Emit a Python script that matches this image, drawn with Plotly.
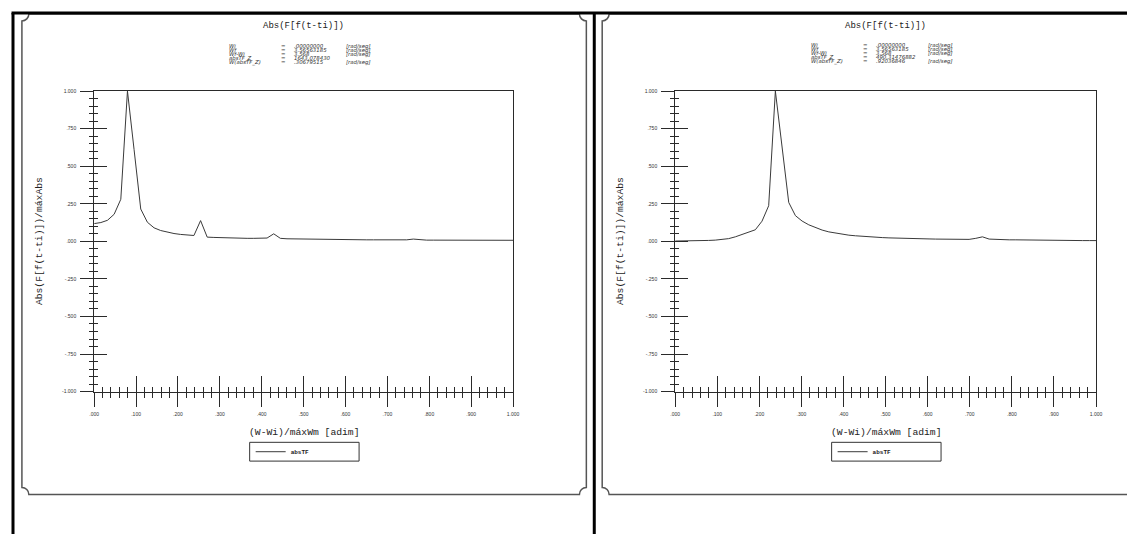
import plotly.graph_objects as go

PAGE_W, PAGE_H = 1135, 534
OFF = 8  # browser body margin
W, H = PAGE_W - OFF, PAGE_H - OFF

# ---------------- data ----------------
freq = [0.0, 0.0159, 0.0317, 0.0476, 0.0635, 0.0794, 0.0952, 0.1111, 0.127, 0.1429,
        0.1587, 0.1746, 0.1905, 0.2063, 0.2222, 0.2381, 0.254, 0.2698, 0.2857, 0.3016,
        0.3175, 0.3333, 0.3492, 0.3651, 0.381, 0.3968, 0.4127, 0.4286, 0.4444, 0.4603,
        0.4762, 0.4921, 0.5079, 0.5238, 0.5397, 0.5556, 0.5714, 0.5873, 0.6032, 0.619,
        0.6349, 0.6508, 0.6667, 0.6825, 0.6984, 0.7143, 0.7302, 0.746, 0.7619, 0.7778,
        0.7937, 0.8095, 0.8254, 0.8413, 0.8571, 0.873, 0.8889, 0.9048, 0.9206, 0.9365,
        0.9524, 0.9683, 0.9841, 1.0]

abs_left = [0.118, 0.125, 0.14, 0.18, 0.28, 1.0, 0.61, 0.215, 0.127, 0.09,
            0.072, 0.06, 0.052, 0.046, 0.042, 0.039, 0.138, 0.028, 0.026, 0.024,
            0.023, 0.022, 0.021, 0.02, 0.02, 0.019, 0.022, 0.05, 0.02, 0.017,
            0.016, 0.015, 0.015, 0.014, 0.013, 0.013, 0.012, 0.014, 0.012, 0.011,
            0.011, 0.01, 0.01, 0.01, 0.009, 0.009, 0.009, 0.01, 0.015, 0.009,
            0.008, 0.008, 0.008, 0.008, 0.008, 0.008, 0.007, 0.007, 0.007, 0.007,
            0.007, 0.007, 0.007, 0.007]

abs_right = [0.002, 0.002, 0.003, 0.004, 0.005, 0.006, 0.008, 0.012, 0.018, 0.03,
             0.046, 0.06, 0.077, 0.134, 0.237, 1.0, 0.62, 0.259, 0.171, 0.135,
             0.11, 0.09, 0.075, 0.063, 0.054, 0.047, 0.041, 0.037, 0.033, 0.03,
             0.027, 0.025, 0.023, 0.021, 0.02, 0.019, 0.018, 0.017, 0.016, 0.015,
             0.014, 0.014, 0.013, 0.013, 0.013, 0.02, 0.03, 0.015, 0.012, 0.011,
             0.01, 0.01, 0.009, 0.009, 0.008, 0.008, 0.007, 0.007, 0.006, 0.006,
             0.006, 0.005, 0.005, 0.005]

series_name = "absTF"
plot_title = "Abs(F[f(t-ti)])"
x_title = "(W-Wi)/máxWm [adim]"
y_title = "Abs(F[f(t-ti)])/máxAbs"

x_tickvals = [0.0, 0.1, 0.2, 0.3, 0.4, 0.5, 0.6, 0.7, 0.8, 0.9, 1.0]
x_ticktext = [".000", ".100", ".200", ".300", ".400", ".500", ".600", ".700", ".800", ".900", "1.000"]
y_tickvals = [-1.0, -0.75, -0.5, -0.25, 0.0, 0.25, 0.5, 0.75, 1.0]
y_ticktext = ["-1.000", "-.750", "-.500", "-.250", ".000", ".250", ".500", ".750", "1.000"]

info_labels = ["Wi", "Wf", "Wf-Wi", "absTF_Z", "W(absTF_Z)"]
info_units = ["[rad/seg]", "[rad/seg]", "[rad/seg]", "", "[rad/seg]"]
info_left = [".00000000", "3.56563185", "3.568", "1643.078430", ".30679515"]
info_right = [".00000000", "3.56563185", "3.568", "490.31476882", ".92036846"]


# ---------------- geometry (page pixels -> paper) ----------------
def px(x):
    return (x - OFF) / W


def py(y):
    return 1 - (y - OFF) / H


panels = [
    dict(x0=90.0, x1=513.0, data=abs_left, info=info_left, frame=(17, 587), info_y=51.5),
    dict(x0=676.7, x1=1101.7, data=abs_right, info=info_right, frame=(603, 1160), info_y=50.5),
]
Y_TOP, Y_BOT = 89.0, 393.0
AX = "#2a2a2a"
TICKFONT = dict(family="Liberation Sans", size=5, color="#333333")
MONO = "Liberation Mono"

fig = go.Figure()
layout = dict(
    width=W, height=H,
    margin=dict(l=0, r=0, t=0, b=0),
    paper_bgcolor="white", plot_bgcolor="white",
    showlegend=True,
)

shapes = []
annotations = []


def column(lines):
    # tight 4px line pitch (base font 3.1px) with larger glyphs
    return "<br>".join(f'<span style="font-size:5.4px">{t if t else "&nbsp;"}</span>' for t in lines)


for i, p in enumerate(panels):
    n = i + 1
    xa = "x" if n == 1 else f"x{n}"
    ya = "y" if n == 1 else f"y{n}"
    xkey = "xaxis" if n == 1 else f"xaxis{n}"
    ykey = "yaxis" if n == 1 else f"yaxis{n}"
    ox = n + 3  # overlay axes 4, 5 (inward half of crossing ticks)
    oxa, oya = f"x{ox}", f"y{ox}"
    legend_key = "legend" if n == 1 else f"legend{n}"

    fig.add_trace(go.Scatter(
        x=freq, y=p["data"], mode="lines", name=series_name,
        line=dict(color="#3a3a3a", width=1),
        xaxis=xa, yaxis=ya, legend=legend_key,
    ))

    xdom = [px(p["x0"]), px(p["x1"])]
    ydom = [py(Y_BOT), py(Y_TOP)]

    layout[xkey] = dict(
        domain=xdom, range=[0, 1], anchor=ya, showgrid=False, zeroline=False,
        showline=True, linecolor=AX, linewidth=1, mirror=True,
        tickmode="array", tickvals=x_tickvals, ticktext=x_ticktext,
        ticks="outside", ticklen=14, tickwidth=1, tickcolor=AX,
        minor=dict(ticks="outside", ticklen=5, tickwidth=1, tickcolor=AX, dtick=0.02, tick0=0, showgrid=False),
        tickfont=TICKFONT, ticklabelstandoff=3,
    )
    layout[ykey] = dict(
        domain=ydom, range=[-1, 1], anchor=xa, showgrid=False, zeroline=False,
        showline=True, linecolor=AX, linewidth=1, mirror=True,
        tickmode="array", tickvals=y_tickvals, ticktext=y_ticktext,
        ticks="outside", ticklen=13, tickwidth=1, tickcolor=AX,
        minor=dict(ticks="outside", ticklen=4, tickwidth=1, tickcolor=AX, dtick=0.05, tick0=0, showgrid=False),
        tickfont=TICKFONT, ticklabelstandoff=3,
    )
    layout[f"xaxis{ox}"] = dict(
        domain=xdom, range=[0, 1], anchor=oya, overlaying=xa, side="bottom",
        showgrid=False, zeroline=False, showline=False, showticklabels=False,
        tickmode="array", tickvals=x_tickvals,
        ticks="inside", ticklen=16, tickwidth=1, tickcolor=AX,
        minor=dict(ticks="inside", ticklen=5, tickwidth=1, tickcolor=AX, dtick=0.02, tick0=0, showgrid=False),
    )
    layout[f"yaxis{ox}"] = dict(
        domain=ydom, range=[-1, 1], anchor=oxa, overlaying=ya, side="left",
        showgrid=False, zeroline=False, showline=False, showticklabels=False,
        tickmode="array", tickvals=y_tickvals,
        ticks="inside", ticklen=13, tickwidth=1, tickcolor=AX,
        minor=dict(ticks="inside", ticklen=4, tickwidth=1, tickcolor=AX, dtick=0.05, tick0=0, showgrid=False),
    )
    fig.add_trace(go.Scatter(x=[None], y=[None], xaxis=oxa, yaxis=oya, showlegend=False, hoverinfo="skip"))

    cx = (p["x0"] + p["x1"]) / 2

    # legend (box drawn as a shape)
    bx0, bx1, by0, by1 = cx - 54.5, cx + 56, 444.3, 463.3
    shapes.append(dict(type="rect", xref="paper", yref="paper",
                       x0=px(bx0), x1=px(bx1), y0=py(by1), y1=py(by0),
                       line=dict(color="#333333", width=1), fillcolor="white", layer="below"))
    layout[legend_key] = dict(
        x=px(bx0 + 1), y=py((by0 + by1) / 2), xanchor="left", yanchor="middle",
        borderwidth=0, bgcolor="rgba(0,0,0,0)",
        font=dict(family="Liberation Mono", size=6, color="#222222", weight="bold"),
        itemwidth=30, tracegroupgap=0,
    )

    # titles
    annotations.append(dict(text=plot_title, x=px(cx), y=py(23), xref="paper", yref="paper",
                            showarrow=False, font=dict(family=MONO, size=9, color="#222222"),
                            xanchor="center", yanchor="middle"))
    annotations.append(dict(text=x_title, x=px(cx), y=py(434), xref="paper", yref="paper",
                            showarrow=False, font=dict(family=MONO, size=9.7, color="#222222"),
                            xanchor="center", yanchor="middle"))
    annotations.append(dict(text=y_title, x=px(p["x0"] - 55), y=py((Y_TOP + Y_BOT) / 2), xref="paper", yref="paper",
                            showarrow=False, textangle=-90, font=dict(family=MONO, size=9.7, color="#222222"),
                            xanchor="center", yanchor="middle"))

    # info block: one annotation per column
    info_font = dict(family="DejaVu Sans", size=3.1, color="#333333", style="italic")
    yy = py(p["info_y"])
    cols = [
        (info_labels, cx - 76, "left"),
        (["="] * len(info_labels), cx - 20, "center"),
        (p["info"], cx - 11, "left"),
        (info_units, cx + 42, "left"),
    ]
    for lines, xpos, anch in cols:
        annotations.append(dict(text=column(lines), x=px(xpos), y=yy, xref="paper", yref="paper",
                                showarrow=False, font=info_font, xanchor=anch, yanchor="middle",
                                align=anch, borderpad=0))

    # notched frame
    fx0, fx1 = p["frame"]
    fy0, fy1 = 11, 497
    r, k = 7, 0.5523

    def P(x, y):
        return f"{px(x):.6f},{py(y):.6f}"
    path = (
        f"M{P(fx0 + r, fy0)} L{P(fx1 - r, fy0)} "
        f"C{P(fx1 - r, fy0 + k * r)} {P(fx1 - k * r, fy0 + r)} {P(fx1, fy0 + r)} "
        f"L{P(fx1, fy1 - r)} "
        f"C{P(fx1 - k * r, fy1 - r)} {P(fx1 - r, fy1 - k * r)} {P(fx1 - r, fy1)} "
        f"L{P(fx0 + r, fy1)} "
        f"C{P(fx0 + r, fy1 - k * r)} {P(fx0 + k * r, fy1 - r)} {P(fx0, fy1 - r)} "
        f"L{P(fx0, fy0 + r)} "
        f"C{P(fx0 + k * r, fy0 + r)} {P(fx0 + r, fy0 + k * r)} {P(fx0 + r, fy0)}"
    )
    shapes.append(dict(type="path", path=path, xref="paper", yref="paper",
                       line=dict(color="#555555", width=1.5), layer="below"))

# black page borders
shapes.append(dict(type="line", xref="paper", yref="paper", x0=px(6.5), x1=px(PAGE_W + 5), y0=py(10), y1=py(10),
                   line=dict(color="black", width=3)))
shapes.append(dict(type="line", xref="paper", yref="paper", x0=px(8), x1=px(8), y0=py(10), y1=py(PAGE_H + 5),
                   line=dict(color="black", width=3)))
shapes.append(dict(type="line", xref="paper", yref="paper", x0=px(595), x1=px(595), y0=py(10), y1=py(PAGE_H + 5),
                   line=dict(color="black", width=3)))

layout["shapes"] = shapes
layout["annotations"] = annotations
fig.update_layout(**layout)

fig.write_html("out.html")
